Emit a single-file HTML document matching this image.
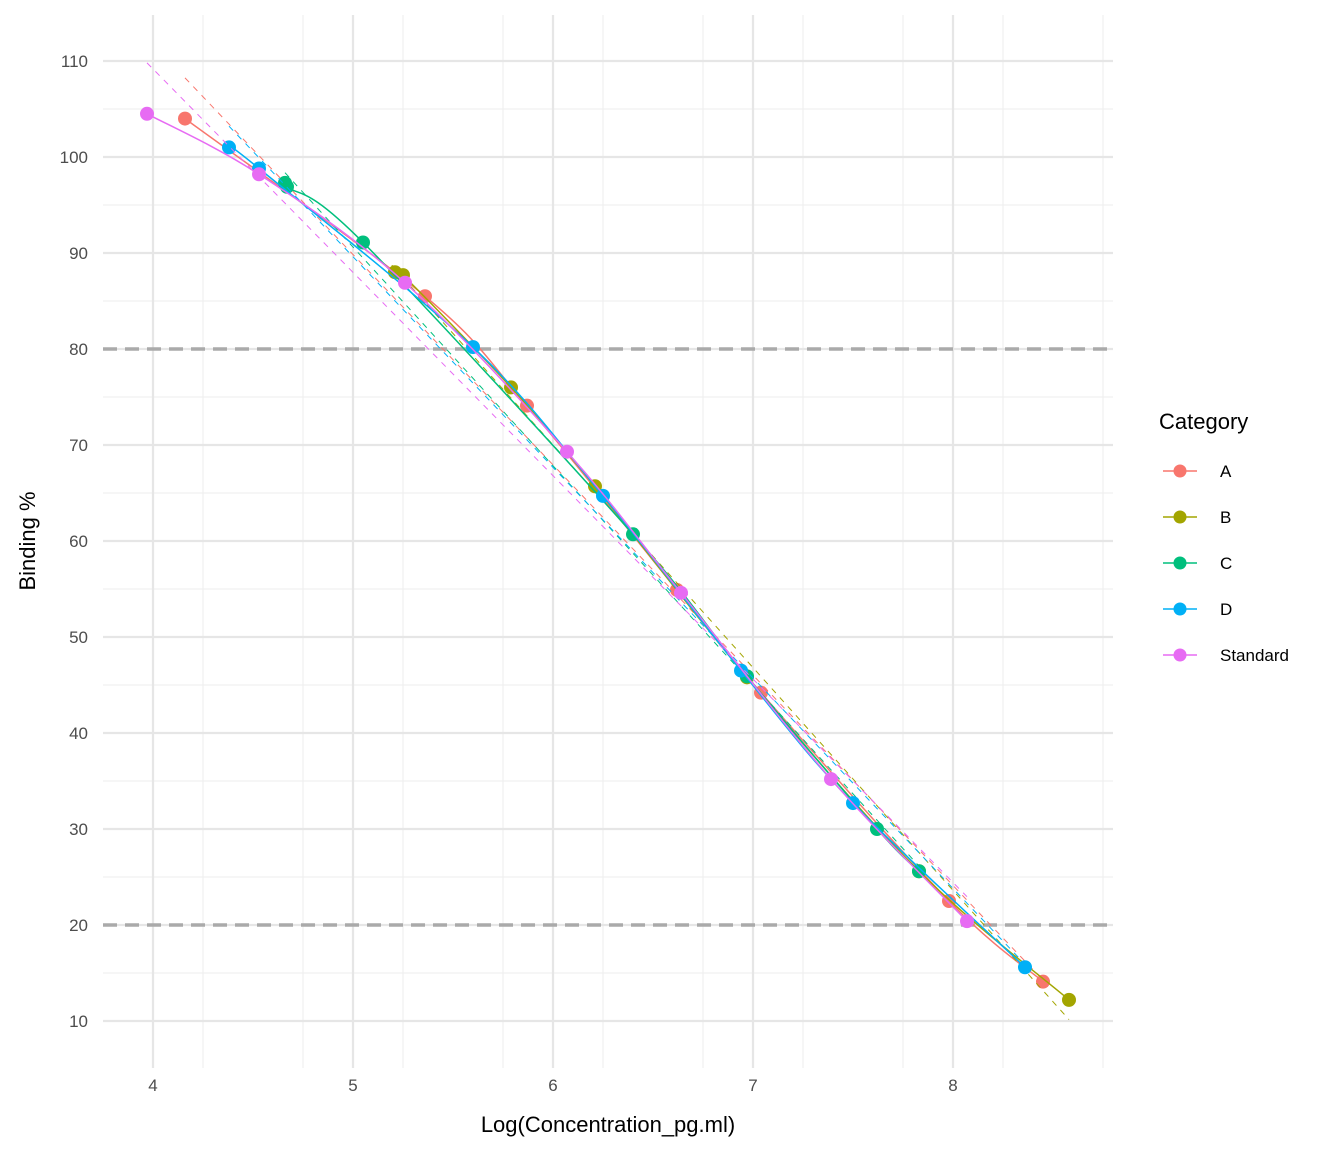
<!DOCTYPE html>
<html><head><meta charset="utf-8"><style>
body{margin:0;background:#fff;font-family:"Liberation Sans",sans-serif}
svg text{font-family:"Liberation Sans",sans-serif}
</style></head><body>
<svg id="c" width="1344" height="1152"></svg>
<script>
const seriesNames=["A","B","C","D","Standard"];
const colors=["#F8766D","#A3A500","#00BF7D","#00B0F6","#E76BF3"];
const xA=[4.16,5.36,5.87,6.62,7.04,7.98,8.45];
const yA=[104,85.5,74.1,54.9,44.2,22.5,14.1];
const xB=[5.21,5.25,5.79,6.21,6.97,7.83,8.58];
const yB=[88,87.7,76,65.7,45.8,25.6,12.2];
const xC=[4.66,4.67,5.05,6.4,6.97,7.62,7.83];
const yC=[97.3,96.9,91.1,60.7,45.9,30,25.6];
const xD=[4.38,4.53,5.6,6.25,6.94,7.5,8.36];
const yD=[101,98.8,80.2,64.7,46.5,32.7,15.6];
const xS=[3.97,4.53,5.26,6.07,6.64,7.39,8.07];
const yS=[104.5,98.2,86.9,69.3,54.6,35.2,20.4];
const xTicks=[4,5,6,7,8];
const yTicks=[10,20,30,40,50,60,70,80,90,100,110];
const refLines=[80,20];
const XS=[xA,xB,xC,xD,xS], YS=[yA,yB,yC,yD,yS];
const sx=v=>153+(v-4)*200, sy=v=>1021-(v-10)*9.6;
const NS="http://www.w3.org/2000/svg", svg=document.getElementById('c');
function mk(t,a,p){const e=document.createElementNS(NS,t);for(const k in a)e.setAttribute(k,a[k]);(p||svg).appendChild(e);return e;}
const grid=mk('g',{});


for(let v=3.75;v<=8.8;v+=0.5){if(sx(v)>103&&sx(v)<1113)mk('line',{x1:sx(v),x2:sx(v),y1:15,y2:1068,stroke:'#f0f0f0','stroke-width':1.2},grid);}
for(let v=5;v<=115;v+=10){if(sy(v)>15&&sy(v)<1068)mk('line',{x1:103,x2:1113,y1:sy(v),y2:sy(v),stroke:'#f0f0f0','stroke-width':1.2},grid);}
xTicks.forEach(v=>{mk('line',{x1:sx(v),x2:sx(v),y1:15,y2:1068,stroke:'#e6e6e6','stroke-width':2.2},grid);
 const t=mk('text',{x:sx(v),y:1091,'text-anchor':'middle','font-size':17,fill:'#4d4d4d'});t.textContent=v;
 });
yTicks.forEach(v=>{mk('line',{x1:103,x2:1113,y1:sy(v),y2:sy(v),stroke:'#e6e6e6','stroke-width':2.2},grid);
 const t=mk('text',{x:88,y:sy(v)+6,'text-anchor':'end','font-size':17,fill:'#4d4d4d'});t.textContent=v;
 });
refLines.forEach(v=>{const l=mk('line',{x1:103,x2:1113,y1:sy(v),y2:sy(v),stroke:'#aaaaaa','stroke-width':3.5,'stroke-dasharray':'14,8'});
 });
function lin(x,y){const n=x.length;let mx=0,my=0;for(let i=0;i<n;i++){mx+=x[i];my+=y[i];}mx/=n;my/=n;let a=0,b=0;for(let i=0;i<n;i++){a+=(x[i]-mx)*(y[i]-my);b+=(x[i]-mx)**2;}const s=a/b;return v=>my+s*(v-mx);}
function spline(P){let d='M'+P[0][0].toFixed(1)+','+P[0][1].toFixed(1);
 for(let i=0;i<P.length-1;i++){const p0=P[Math.max(0,i-1)],p1=P[i],p2=P[i+1],p3=P[Math.min(P.length-1,i+2)];
  const c1=[p1[0]+(p2[0]-p0[0])/6,p1[1]+(p2[1]-p0[1])/6],c2=[p2[0]-(p3[0]-p1[0])/6,p2[1]-(p3[1]-p1[1])/6];
  d+='C'+c1.map(v=>v.toFixed(1)).join(',')+' '+c2.map(v=>v.toFixed(1)).join(',')+' '+p2[0].toFixed(1)+','+p2[1].toFixed(1);}
 return d;}
seriesNames.forEach((n,i)=>{const x=XS[i],y=YS[i],lo=Math.min(...x),hi=Math.max(...x);
 const g=mk('g',{});
 const L=lin(x,y);
 const d=mk('line',{x1:sx(lo),y1:sy(L(lo)),x2:sx(hi),y2:sy(L(hi)),stroke:colors[i],'stroke-width':1,'stroke-dasharray':'6,6'},g);
 
 const P=x.map((v,j)=>[sx(v),sy(y[j])]).sort((a,b)=>a[0]-b[0]);
 const c=mk('path',{d:spline(P),fill:'none',stroke:colors[i],'stroke-width':1.5},g);
 
 x.forEach((v,j)=>{const pt=mk('circle',{cx:sx(v),cy:sy(y[j]),r:7,fill:colors[i]},g);
  });
});
let t=mk('text',{x:608,y:1132,'text-anchor':'middle','font-size':22,fill:'#000'});t.textContent='Log(Concentration_pg.ml)';

t=mk('text',{x:35,y:541,'text-anchor':'middle','font-size':22,fill:'#000',transform:'rotate(-90 35 541)'});t.textContent='Binding %';

const lg=mk('g',{});
t=mk('text',{x:1159,y:429,'font-size':22,fill:'#000'},lg);t.textContent='Category';

seriesNames.forEach((n,i)=>{const y=471+i*46;const e=mk('g',{},lg);
 
 mk('line',{x1:1163,x2:1197,y1:y,y2:y,stroke:colors[i],'stroke-width':1.5},e);
 mk('circle',{cx:1180,cy:y,r:6.5,fill:colors[i]},e);
 const tt=mk('text',{x:1220,y:y+6,'font-size':17,fill:'#000'},e);tt.textContent=n;});
</script>
</body></html>
